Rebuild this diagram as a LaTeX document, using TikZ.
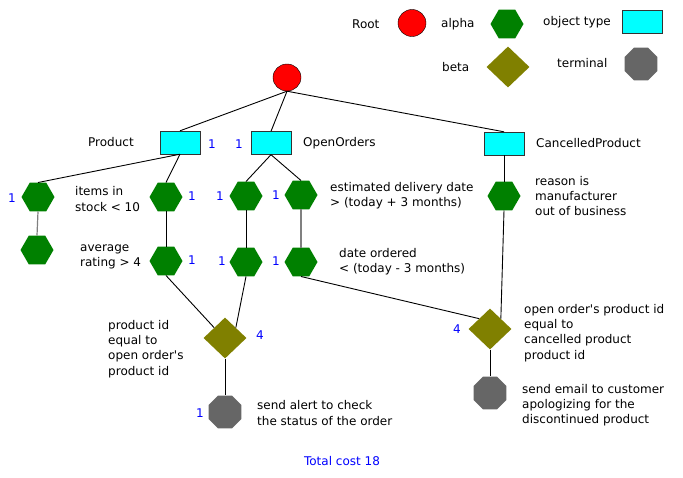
\documentclass[tikz,border=0pt]{standalone}
\usepackage{fontspec}
\setmainfont{DejaVu Sans}
\usetikzlibrary{shapes.geometric}
\definecolor{alphagreen}{RGB}{0,128,0}
\definecolor{betaolive}{RGB}{128,128,0}
\definecolor{termgray}{RGB}{102,102,102}
\definecolor{objcyan}{RGB}{0,255,255}
\definecolor{costblue}{RGB}{0,0,255}
\begin{document}
\begin{tikzpicture}[x=1pt,y=-1pt,
        font=\fontsize{12}{15.3}\selectfont,
        lbl/.style={anchor=west,inner sep=0,align=left},
        cost/.style={inner sep=0,text=costblue},
        rootnode/.style={ellipse,draw=black,fill=red,minimum width=28,minimum height=27,inner sep=0},
        alphanode/.style={regular polygon,regular polygon sides=6,fill=alphagreen,minimum size=33,inner sep=0},
        betanode/.style={diamond,fill=betaolive,minimum width=43,minimum height=41,inner sep=0},
        termnode/.style={regular polygon,regular polygon sides=8,fill=termgray,minimum size=35.7,inner sep=0},
        objnode/.style={rectangle,draw=black!80,fill=objcyan,minimum width=40,minimum height=23,inner sep=0},
        link/.style={line width=0.9pt},
        greylink/.style={line width=1.2pt,draw=black!50}]
        \useasboundingbox (0,0) rectangle (683,477);
        % legend
        \node[lbl] (lroot) at (352,24) {Root};
        \node[rootnode] (lcirc) at (412,23) {};
        \node[lbl] (lalpha) at (441,24) {alpha};
        \node[alphanode] (lhex) at (507,24) {};
        \node[lbl] (lobj) at (543,22) {object type};
        \node[objnode] (lrect) at (642,22) {};
        \node[lbl] (lbeta) at (442,67) {beta};
        \node[betanode] (ldia) at (508,67) {};
        \node[lbl] (lterm) at (557,63) {terminal};
        \node[termnode] (loct) at (641,64) {};
        % tree
        \node[rootnode] (root) at (287,77.5) {};
        \node[objnode] (product) at (180,142.5) {};
        \node[lbl] (productlbl) at (88,142) {Product};
        \node[cost] (productcost) at (212,144) {1};
        \node[objnode] (orders) at (271,143) {};
        \node[lbl] (orderslbl) at (303,143) {OpenOrders};
        \node[cost] (orderscost) at (239,144) {1};
        \node[objnode] (cancelled) at (504,143.5) {};
        \node[lbl] (cancelledlbl) at (536,143) {CancelledProduct};
        \node[alphanode] (pa) at (38,197) {};
        \node[cost] (pacost) at (12,198) {1};
        \node[lbl] (palbl) at (75,199) {items in\\stock < 10};
        \node[alphanode] (pb) at (166,197) {};
        \node[cost] (pbcost) at (192,196) {1};
        \node[alphanode] (oa) at (246,196) {};
        \node[cost] (oacost) at (220,196) {1};
        \node[alphanode] (ob) at (301,195) {};
        \node[cost] (obcost) at (276,195) {1};
        \node[lbl] (oblbl) at (330,196) {estimated delivery date\\> (today + 3 months)};
        \node[alphanode] (ca) at (504,196) {};
        \node[lbl] (calbl) at (535,196) {reason is\\manufacturer\\out of business};
        \node[alphanode] (pc) at (37,250) {};
        \node[lbl] (pclbl) at (80,257) {average\\rating > 4};
        \node[alphanode] (pd) at (166,261) {};
        \node[cost] (pdcost) at (192,260) {1};
        \node[alphanode] (oc) at (246,262) {};
        \node[cost] (occost) at (222,261) {1};
        \node[alphanode] (od) at (301,262) {};
        \node[cost] (odcost) at (276,261) {1};
        \node[lbl] (odlbl) at (339,262) {date ordered\\< (today - 3 months)};
        \node[betanode] (jl) at (225,338) {};
        \node[cost] (jlcost) at (260,335) {4};
        \node[lbl] (jllbl) at (108,349) {product id\\equal to\\open order\textquotesingle s\\product id};
        \node[betanode] (jr) at (490,329) {};
        \node[cost] (jrcost) at (457,329) {4};
        \node[lbl] (jrlbl) at (524,333) {open order\textquotesingle s product id\\equal to\\cancelled product\\product id};
        \node[termnode] (tl) at (225,412) {};
        \node[cost] (tlcost) at (200,413) {1};
        \node[lbl] (tllbl) at (257,413) {send alert to check\\the status of the order};
        \node[termnode] (tr) at (490,393) {};
        \node[lbl] (trlbl) at (522,405) {send email to customer\\apologizing for the\\discontinued product};
        \node[cost] (total) at (342,461) {Total cost 18};
        \draw[link] (root.south) -- (product.north);
        \draw[link] (root.south) -- (orders.north);
        \draw[link] (root.south) -- (cancelled.north);
        \draw[link] (product.south) -- (pa.north);
        \draw[link] (product.south) -- (pb.north);
        \draw[link] (orders.south) -- (oa.north);
        \draw[link] (orders.south) -- (ob.north);
        \draw[link] (cancelled.south) -- (ca.north);
        \draw[greylink] (pa.south) -- (pc.north);
        \draw[link] (pb.south) -- (pd.north);
        \draw[link] (oa.south) -- (oc.north);
        \draw[greylink] (ob.south) -- (od.north);
        \draw[link] (pd.south) -- (jl.north west);
        \draw[link] (oc.south) -- (jl.north east);
        \draw[link] (od.south) -- (jr.north west);
        \draw[link] (ca.south) -- (jr.north east);
        \draw[link] (jl.south) -- (tl.north);
        \draw[link] (jr.south) -- (tr.north);
\end{tikzpicture}
\end{document}
